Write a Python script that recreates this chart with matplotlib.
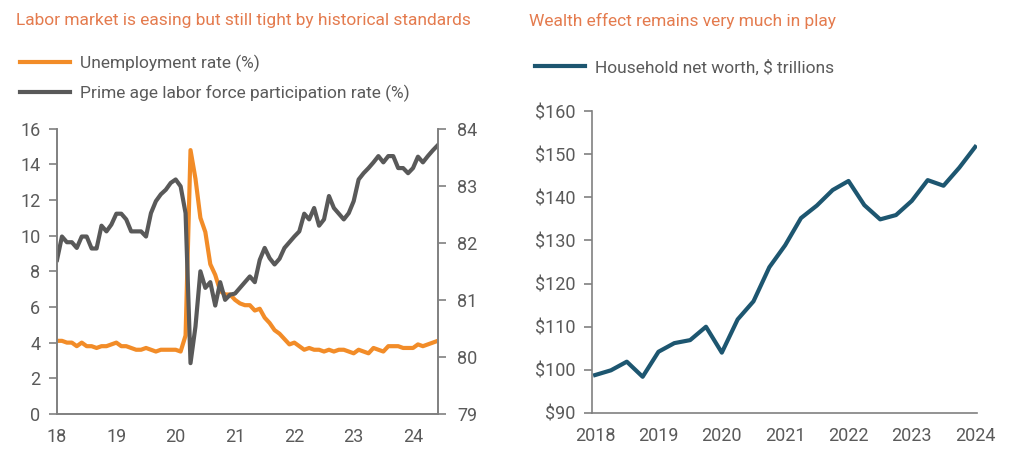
import matplotlib
matplotlib.use('Agg')
import matplotlib.pyplot as plt
from matplotlib.lines import Line2D
import numpy as np

plt.rcParams['font.family'] = ['Roboto', 'DejaVu Sans']

# Colores
naranja = '#F28C28'
gris = '#595959'
azul = '#1D5670'
titulo_col = '#E47B4E'
texto_col = '#5a5a5a'
eje_col = '#808080'

# ---------------- DATOS ----------------
# Tasa de desempleo mensual (%), ene-2018 .. jun-2024
desempleo = [4.1, 4.1, 4.0, 4.0, 3.8, 4.0, 3.8, 3.8, 3.7, 3.8, 3.8, 3.9,
             4.0, 3.8, 3.8, 3.7, 3.6, 3.6, 3.7, 3.6, 3.5, 3.6, 3.6, 3.6,
             3.6, 3.5, 4.4, 14.8, 13.2, 11.0, 10.2, 8.4, 7.8, 6.9, 6.7, 6.7,
             6.4, 6.2, 6.1, 6.1, 5.8, 5.9, 5.4, 5.1, 4.7, 4.5, 4.2, 3.9,
             4.0, 3.8, 3.6, 3.7, 3.6, 3.6, 3.5, 3.6, 3.5, 3.6, 3.6, 3.5,
             3.4, 3.6, 3.5, 3.4, 3.7, 3.6, 3.5, 3.8, 3.8, 3.8, 3.7, 3.7,
             3.7, 3.9, 3.8, 3.9, 4.0, 4.1]
# Tasa de participación laboral 25-54 (%)
participacion = [81.70, 82.11, 82.01, 82.01, 81.91, 82.11, 82.11, 81.90, 81.90, 82.30, 82.20, 82.32,
                 82.51, 82.51, 82.41, 82.20, 82.20, 82.20, 82.11, 82.52, 82.73, 82.85, 82.93, 83.05,
                 83.11, 82.99, 82.52, 79.89, 80.53, 81.50, 81.21, 81.31, 80.90, 81.31, 81.00, 81.09,
                 81.11, 81.21, 81.31, 81.41, 81.31, 81.70, 81.91, 81.73, 81.62, 81.72, 81.91, 82.01,
                 82.11, 82.20, 82.51, 82.41, 82.61, 82.30, 82.41, 82.82, 82.61, 82.51, 82.41, 82.52,
                 82.73, 83.11, 83.22, 83.31, 83.41, 83.52, 83.41, 83.52, 83.52, 83.31, 83.31, 83.22,
                 83.31, 83.51, 83.41, 83.52, 83.62, 83.71]
meses = 2018 + np.arange(len(desempleo)) / 12.0
anios_izq = [2018, 2019, 2020, 2021, 2022, 2023, 2024]
etiquetas_izq = ['18', '19', '20', '21', '22', '23', '24']

# Patrimonio neto de los hogares (billones $), trimestral 2018T1 .. 2024T1
patrimonio = [98.8, 99.9, 101.9, 98.4, 104.2, 106.2, 106.9, 110.0, 104.0,
              111.7, 115.9, 123.8, 128.9, 135.2, 138.1, 141.7, 143.8,
              138.2, 134.9, 135.9, 139.2, 144.0, 142.7, 146.9, 151.7]
trimestres = np.arange(len(patrimonio))
etiquetas_der = ['2018', '2019', '2020', '2021', '2022', '2023', '2024']

# ---------------- FIGURA ----------------
fig = plt.figure(figsize=(10.18, 4.63), dpi=100)

def estilo(ax):
    for s in ['top', 'right', 'left', 'bottom']:
        ax.spines[s].set_color(eje_col)
        ax.spines[s].set_linewidth(1.2)
    ax.tick_params(axis='both', colors=eje_col, labelcolor=texto_col, labelsize=13)
    ax.tick_params(axis='y', length=6, width=1.2, pad=6)
    ax.tick_params(axis='x', length=0, pad=10)

# Panel izquierdo
ax1 = fig.add_axes([0.056, 0.106, 0.374, 0.616])
ax1.plot(meses, desempleo, color=naranja, lw=3, solid_joinstyle='round')
ax1.set_ylim(0, 16)
ax1.set_yticks(range(0, 17, 2))
ax1.set_xlim(2018, meses[-1])
ax1.set_xticks(anios_izq)
ax1.set_xticklabels(etiquetas_izq)
estilo(ax1)
ax1.spines['top'].set_visible(False)

ax2 = ax1.twinx()
ax2.plot(meses, participacion, color=gris, lw=3, solid_joinstyle='round')
ax2.set_ylim(79, 84)
ax2.set_yticks(range(79, 85))
estilo(ax2)
ax2.spines['top'].set_visible(False)
ax2.tick_params(axis='y', pad=8)

fig.text(0.016, 0.955, 'Labor market is easing but still tight by historical standards',
         color=titulo_col, fontsize=12.5, va='center', ha='left')
h1 = [Line2D([], [], color=naranja, lw=3), Line2D([], [], color=gris, lw=3)]
fig.legend(h1, ['Unemployment rate (%)', 'Prime age labor force participation rate (%)'],
           loc='upper left', bbox_to_anchor=(0.0196, 0.882), frameon=False, fontsize=12.5,
           labelcolor=texto_col, handlelength=2.9, handletextpad=0.55, labelspacing=0.72,
           borderaxespad=0, borderpad=0)

# Panel derecho
ax3 = fig.add_axes([0.5815, 0.108, 0.378, 0.652])
ax3.plot(trimestres, patrimonio, color=azul, lw=3, solid_joinstyle='round')
ax3.set_ylim(90, 160)
ax3.set_yticks(range(90, 161, 10))
ax3.set_yticklabels(['$%d' % v for v in range(90, 161, 10)])
ax3.set_xlim(-0.2, 24.1)
ax3.set_xticks(range(0, 25, 4))
ax3.set_xticklabels(etiquetas_der)
estilo(ax3)
ax3.spines['top'].set_visible(False)
ax3.spines['right'].set_visible(False)

fig.text(0.52, 0.955, 'Wealth effect remains very much in play',
         color=titulo_col, fontsize=12.5, va='center', ha='left')
fig.legend([Line2D([], [], color=azul, lw=3)], ['Household net worth, $ trillions'],
           loc='upper left', bbox_to_anchor=(0.5255, 0.872), frameon=False, fontsize=12.5,
           labelcolor=texto_col, handlelength=2.9, handletextpad=0.55, borderaxespad=0,
           borderpad=0)

fig.savefig('out.png', dpi=100)
